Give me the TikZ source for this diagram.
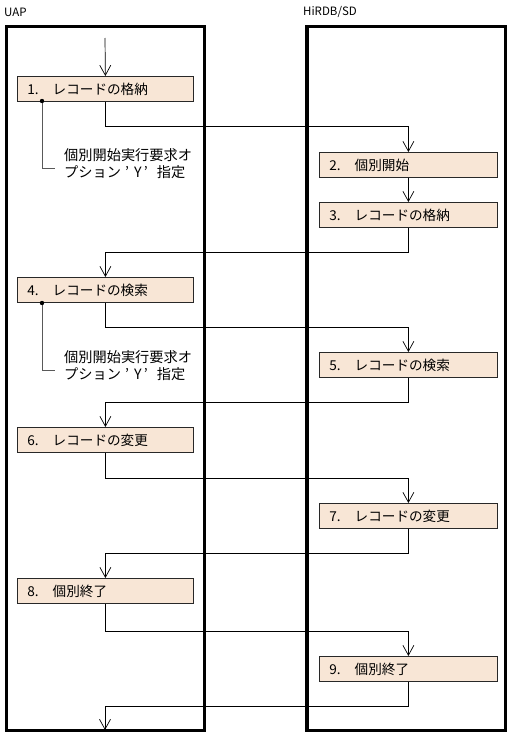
\documentclass[tikz,border=0pt]{standalone}
\usepackage{fontspec}
\setmainfont{Noto Sans CJK JP}
\usetikzlibrary{arrows.meta,calc}
\definecolor{boxfill}{RGB}{248,230,214}
\definecolor{boxline}{RGB}{40,40,40}
\newcommand{\yopt}{プション\makebox[12pt][c]{’}\makebox[10pt][c]{Y}\makebox[14pt][l]{\hspace{1pt}’}指定}
\begin{document}
\begin{tikzpicture}[x=1pt,y=-1pt,
  lane/.style={draw=black,line width=3.6pt},
  lbox/.style={draw=boxline,fill=boxfill,line width=0.8pt,anchor=north west,
     minimum height=25pt,inner xsep=10pt,inner ysep=0pt,align=left,
     font=\fontsize{13.6pt}{15pt}\selectfont},
  conn/.style={draw=black,line width=0.7pt},
  arr/.style={conn,-{Straight Barb[length=10pt,width=11pt,line width=0.7pt]}},
  note/.style={anchor=west,align=left,inner sep=0pt,
     font=\fontsize{14.2pt}{17.5pt}\selectfont},
  notel/.style={draw=gray!70!black,line width=1pt},
  lbl/.style={anchor=west,inner sep=0pt,font=\fontsize{11.5pt}{13pt}\selectfont}]
\useasboundingbox[fill=white] (0,0) rectangle (513,736);
% lane titles
\node[lbl] (tU) at (4,12) {UAP};
\node[lbl] (tH) at (303,12) {HiRDB/SD};
% lanes
\draw[lane] (6.5,26.5) rectangle (204.5,730.5);
\draw[lane] (307,26.5) rectangle (505.5,730.5);
% left boxes
\node[lbox,text width=156pt] (b1) at (17,76) {1.\hspace{14pt}レコードの格納};
\node[lbox,text width=156pt] (b4) at (17,277) {4.\hspace{14pt}レコードの検索};
\node[lbox,text width=156pt] (b6) at (17,427) {6.\hspace{14pt}レコードの変更};
\node[lbox,text width=156pt] (b8) at (17,578) {8.\hspace{14pt}個別終了};
% right boxes
\node[lbox,text width=158pt] (b2) at (319,152) {2.\hspace{14pt}個別開始};
\node[lbox,text width=158pt] (b3) at (319,202) {3.\hspace{14pt}レコードの格納};
\node[lbox,text width=158pt] (b5) at (319,352) {5.\hspace{14pt}レコードの検索};
\node[lbox,text width=158pt] (b7) at (319,503) {7.\hspace{14pt}レコードの変更};
\node[lbox,text width=158pt] (b9) at (319,656) {9.\hspace{14pt}個別終了};
% start / end
\coordinate (start) at (105,38);
\coordinate (end) at (105,730);
% connectors
\draw[arr] (start) -- (b1.north);
\draw[arr] (b1.south) -- ++(0,25) -| (b2.north);
\draw[arr] (b2.south) -- (b3.north);
\draw[arr] (b3.south) -- ++(0,25) -| (b4.north);
\draw[arr] (b4.south) -- ++(0,25) -| (b5.north);
\draw[arr] (b5.south) -- ++(0,25) -| (b6.north);
\draw[arr] (b6.south) -- ++(0,26) -| (b7.north);
\draw[arr] (b7.south) -- ++(0,25) -| (b8.north);
\draw[arr] (b8.south) -- ++(0,28) -| (b9.north);
\draw[arr] (b9.south) -- ++(0,25) -| (end);
% annotations
\coordinate (d1) at (42,101);
\coordinate (e1) at (55,168);
\node[note] (n1) at (64,163.5) {個別開始実行要求オ\\\yopt};
\draw[notel] (d1) |- (e1);
\fill (d1) circle (2.2pt);
\coordinate (d4) at (42,303);
\coordinate (e4) at (55,370);
\node[note] (n4) at (64,365.5) {個別開始実行要求オ\\\yopt};
\draw[notel] (d4) |- (e4);
\fill (d4) circle (2.2pt);
\end{tikzpicture}
\end{document}
